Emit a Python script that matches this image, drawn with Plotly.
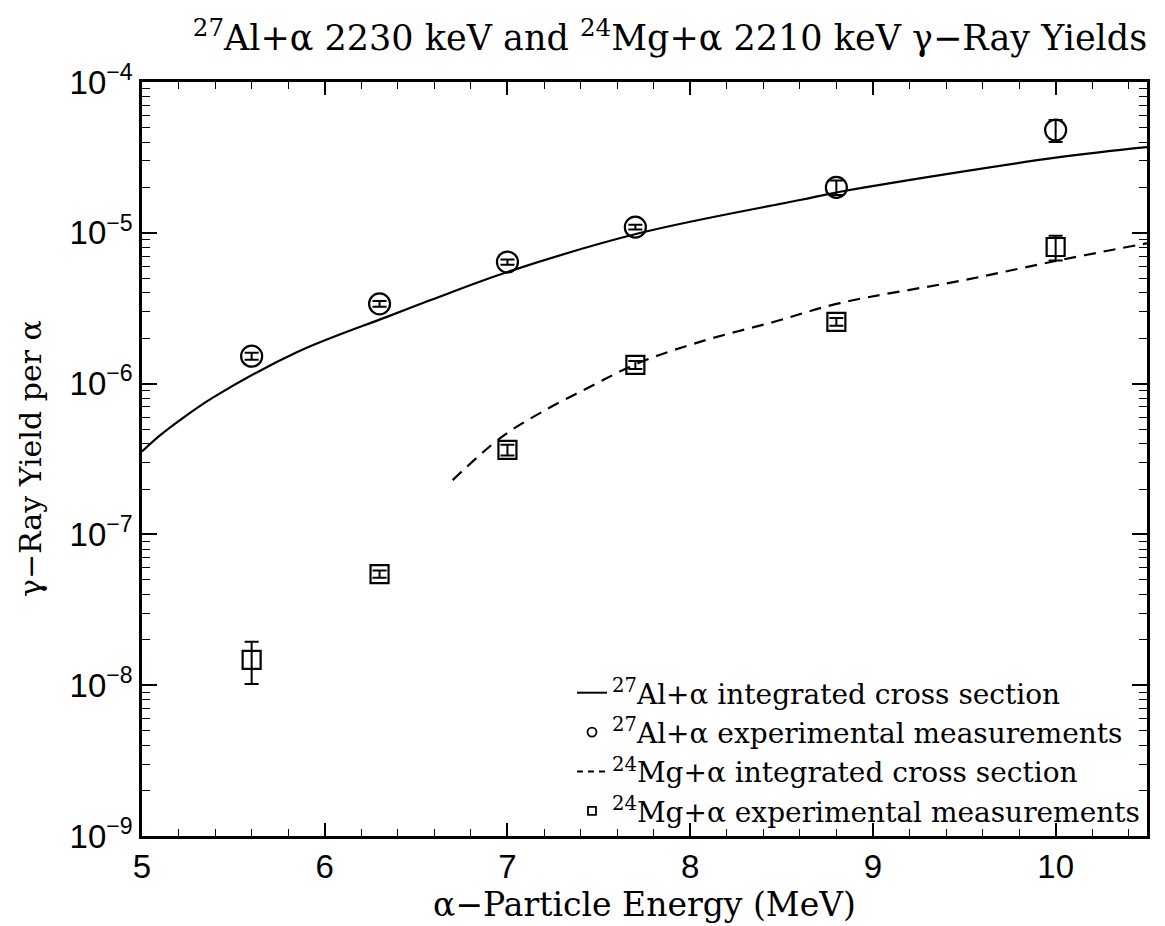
import plotly.graph_objects as go

# ---- data ----
e_meas = [5.6, 6.3, 7.0, 7.7, 8.8, 10.0]
al_meas = [1.52e-6, 3.38e-6, 6.4e-6, 1.09e-5, 2.0e-5, 4.8e-5]
al_err = [0.8e-7, 1.5e-7, 2.5e-7, 4e-7, 2.2e-6, 8e-6]
mg_meas = [1.47e-8, 5.46e-8, 3.63e-7, 1.33e-6, 2.57e-6, 8.05e-6]
mg_err_up = [0.47e-8, 0.3e-8, 0.3e-7, 0.8e-7, 0.15e-6, 1.5e-6]
mg_err_dn = [0.45e-8, 0.3e-8, 0.3e-7, 0.8e-7, 0.15e-6, 1.5e-6]

al_curve_e = [5.0, 5.10, 5.21, 5.39, 5.85, 6.34, 6.58, 7.0, 7.73, 8.6, 8.85, 10.0, 10.5]
al_curve_y = [3.55e-7, 4.55e-7, 5.75e-7, 8.1e-7, 1.62e-6, 2.77e-6, 3.58e-6, 5.5e-6,
              1.0e-5, 1.65e-5, 1.9e-5, 3.15e-5, 3.7e-5]
mg_curve_e = [6.70, 6.96, 7.18, 7.45, 7.73, 8.09, 8.46, 8.82, 9.50, 10.0, 10.45, 10.5]
mg_curve_y = [2.29e-7, 4.35e-7, 6.4e-7, 9.5e-7, 1.39e-6, 1.95e-6, 2.57e-6, 3.42e-6,
              4.86e-6, 6.5e-6, 8.3e-6, 8.5e-6]

decades = [1e-9, 1e-8, 1e-7, 1e-6, 1e-5, 1e-4]
decade_labels = ["10<sup>−9</sup>", "10<sup>−8</sup>", "10<sup>−7</sup>",
                 "10<sup>−6</sup>", "10<sup>−5</sup>", "10<sup>−4</sup>"]
x_ticks = [5, 6, 7, 8, 9, 10]

legend_names = ["<sup>27</sup>Al+α integrated cross section",
                "<sup>27</sup>Al+α experimental measurements",
                "<sup>24</sup>Mg+α integrated cross section",
                "<sup>24</sup>Mg+α experimental measurements"]

minor_y = [k * d for d in decades[:-1] for k in range(2, 10)]

SERIF = "DejaVu Serif"
SANS = "Liberation Sans"

fig = go.Figure()

fig.add_trace(go.Scatter(x=al_curve_e, y=al_curve_y, mode="lines",
                         line=dict(color="black", width=2.2, shape="spline"),
                         showlegend=False))
fig.add_trace(go.Scatter(x=mg_curve_e, y=mg_curve_y, mode="lines",
                         line=dict(color="black", width=2.2, shape="spline", dash="12px,8px"),
                         showlegend=False))
fig.add_trace(go.Scatter(x=e_meas, y=al_meas, mode="markers",
                         marker=dict(symbol="circle-open", size=21, color="black",
                                     line=dict(width=2.2, color="black")),
                         error_y=dict(type="data", array=al_err, color="black",
                                      thickness=2, width=7),
                         showlegend=False))
fig.add_trace(go.Scatter(x=e_meas, y=mg_meas, mode="markers",
                         marker=dict(symbol="square-open", size=18, color="black",
                                     line=dict(width=2.2, color="black")),
                         error_y=dict(type="data", array=mg_err_up, arrayminus=mg_err_dn,
                                      color="black", thickness=2, width=7),
                         showlegend=False))

# legend entries
fig.add_trace(go.Scatter(x=[None], y=[None], mode="lines", name=legend_names[0],
                         line=dict(color="black", width=2)))
fig.add_trace(go.Scatter(x=[None], y=[None], mode="markers", name=legend_names[1],
                         marker=dict(symbol="circle-open", size=9, color="black",
                                     line=dict(width=1.8, color="black"))))
fig.add_trace(go.Scatter(x=[None], y=[None], mode="lines", name=legend_names[2],
                         line=dict(color="black", width=2, dash="6px,5px")))
fig.add_trace(go.Scatter(x=[None], y=[None], mode="markers", name=legend_names[3],
                         marker=dict(symbol="square-open", size=8, color="black",
                                     line=dict(width=1.8, color="black"))))

fig.update_layout(
    width=1165, height=926,
    margin=dict(l=134, r=26, t=74, b=98),
    paper_bgcolor="white", plot_bgcolor="white",
    title=dict(text="<sup>27</sup>Al+α 2230 keV and <sup>24</sup>Mg+α 2210 keV γ−Ray Yields",
               x=662 / 1165, xanchor="center", xref="container",
               y=1 - 30 / 926, yanchor="middle", yref="container",
               font=dict(family=SERIF, size=35, color="black")),
    legend=dict(x=0.998, xanchor="right", y=0.0, yanchor="bottom",
                bgcolor="rgba(0,0,0,0)", borderwidth=0,
                font=dict(family=SERIF, size=28, color="black"),
                tracegroupgap=0, itemwidth=30),
    font=dict(family=SERIF, color="black"),
    annotations=[dict(text="γ−Ray Yield per α", textangle=-90, showarrow=False,
                      xref="paper", yref="paper", x=-112 / 1005, y=0.5,
                      xanchor="center", yanchor="middle",
                      font=dict(family=SERIF, size=30, color="black"))],
)

fig.update_xaxes(range=[5, 10.5], tickvals=x_ticks, ticktext=[str(v) for v in x_ticks],
                 ticks="inside", ticklen=13, tickwidth=1.5, tickcolor="black",
                 minor=dict(ticks="inside", ticklen=7, dtick=0.2, tick0=5,
                            tickwidth=1.2, tickcolor="black"),
                 showline=True, linecolor="black", linewidth=2.5, mirror="allticks",
                 showgrid=False, zeroline=False,
                 tickfont=dict(family=SANS, size=33, color="black"),
                 title=dict(text="α−Particle Energy (MeV)", standoff=2,
                            font=dict(family=SERIF, size=33, color="black")))

fig.update_yaxes(type="log", range=[-9, -4], tickvals=decades, ticktext=decade_labels,
                 ticks="inside", ticklen=15, tickwidth=1.5, tickcolor="black",
                 minor=dict(ticks="inside", ticklen=8, tickvals=minor_y,
                            tickwidth=1.2, tickcolor="black"),
                 showline=True, linecolor="black", linewidth=2.5, mirror="allticks",
                 showgrid=False, zeroline=False,
                 tickfont=dict(family=SANS, size=33, color="black"))

fig.write_html("out.html")
